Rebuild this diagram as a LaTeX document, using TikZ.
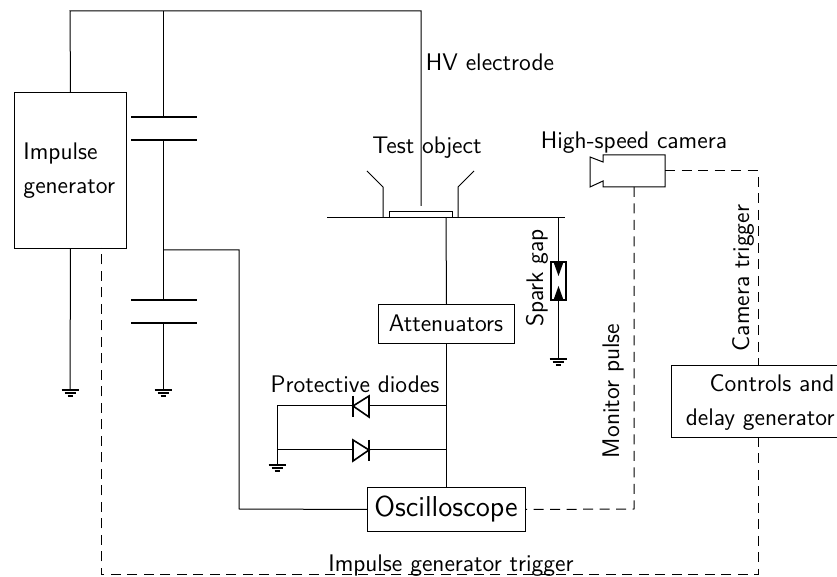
\documentclass[tikz,border=0pt]{standalone}
\usepackage{amsmath,amssymb}
\usetikzlibrary{arrows}
\tikzset{
  box/.style={draw,inner sep=0pt,anchor=north west},
  lbl/.style={font=\sffamily\large},
  trig/.style={dash pattern=on 5pt off 3.25pt},
  gnd/.pic={
    \draw[line width=0.8pt] (-8.5,0) -- (8.5,0);
    \draw[line width=0.8pt] (-5.5,3) -- (5.5,3);
    \draw[line width=0.8pt] (-2.5,6) -- (2.5,6);
  }
}
\begin{document}
\begin{tikzpicture}[x=0.5pt,y=-0.5pt,line width=0.5pt]
	\useasboundingbox (0,0) rectangle (837,577);
	\node[box,minimum width=56pt,minimum height=78pt] (gen) at (14,92) {};
	\node[lbl,align=left,anchor=west,inner sep=0pt] (gentxt) at (23,171) {Impulse\\[3pt]generator};
	\node[box,minimum width=68pt,minimum height=19.5pt] (att) at (378,304) {};
	\node[lbl] (atttxt) at (446,323) {Attenuators};
	\node[box,minimum width=79pt,minimum height=22pt] (osc) at (367,487) {};
	\node[font=\sffamily\Large] (osctxt) at (446,509) {Oscilloscope};
	\node[box,minimum width=90pt,minimum height=36pt] (ctl) at (671,365) {};
	\node[lbl,align=right,anchor=east,inner sep=0pt] (ctltxt) at (835,403) {Controls and\\[3pt]delay generator};
	\node[lbl] (hv) at (490,62) {HV electrode};
	\node[lbl] (test) at (427,148) {Test object};
	\node[lbl] (cam) at (634,143) {High-speed camera};
	\node[lbl] (prot) at (355,384) {Protective diodes};
	\node[lbl,rotate=90] (spark) at (537,278) {Spark gap};
	\node[lbl,rotate=90] (mon) at (613,391) {Monitor pulse};
	\node[lbl,rotate=90] (camtrig) at (743,278) {Camera trigger};
	\node[lbl] (imptrig) at (451,566) {Impulse generator trigger};
	% top wiring
	\coordinate (capa) at (163,117);
	\coordinate (capb) at (163,140);
	\coordinate (capc) at (163,300);
	\coordinate (capd) at (163,323);
	\coordinate (gnda) at (70,390);
	\coordinate (gndb) at (163,390);
	\coordinate (hvtip) at (421,206);
	\draw (gen.north) -- (70,11) -- (421,11) -- (hvtip);
	\draw (163,11) -- (capa);
	\draw[line width=1pt] (131,117) -- (197,117) (131,140) -- (197,140);
	\draw (capb) -- (capc);
	\draw[line width=1pt] (131,300) -- (197,300) (131,323) -- (197,323);
	\draw (capd) -- (gndb);
	\draw (gen.south) -- (gnda);
	\pic at (gnda) {gnd};
	\pic at (gndb) {gnd};
	\draw (163,250) -- (239,250) -- (239,509) -- (osc.west);
	% test object
	\draw (327,218) -- (565,218);
	\draw (389,218) rectangle (452,212);
	\draw (367,171) -- (383,187) -- (383,218);
	\draw (474,171) -- (458,187) -- (458,218);
	\draw (446,218) -- (att.north);
	\draw (att.south) -- (osc.north);
	% spark gap
	\coordinate (gapa) at (558,262);
	\coordinate (gapb) at (558,300);
	\coordinate (gndc) at (558,359);
	\draw (558,218) -- (gapa);
	\draw[line width=1.3pt] (551,262) rectangle (566,300);
	\fill (553.5,262) -- (563.5,262) -- (558.5,276) -- cycle;
	\fill (553.5,300) -- (563.5,300) -- (558.5,286) -- cycle;
	\draw (gapb) -- (gndc);
	\pic at (gndc) {gnd};
	% diodes
	\coordinate (gndd) at (277,465);
	\draw (446,406) -- (369,406);
	\draw (353,406) -- (277,406) -- (gndd);
	\draw[line width=0.8pt] (369,396) -- (369,417) -- (353,406) -- cycle;
	\draw[line width=0.8pt] (353,396) -- (353,417);
	\draw (446,450) -- (369,450);
	\draw (353,450) -- (277,450);
	\draw[line width=0.8pt] (353,440) -- (353,461) -- (369,450) -- cycle;
	\draw[line width=0.8pt] (369,440) -- (369,461);
	\pic at (gndd) {gnd};
	% camera
	\coordinate (came) at (665,171);
	\coordinate (cams) at (634,187);
	\draw (603,155) -- (665,155) -- (665,187) -- (603,187) -- (603,181) -- (590,187) -- (590,157) -- (603,162) -- cycle;
	% trigger lines
	\coordinate (ctla) at (758,365);
	\coordinate (ctlb) at (758,437);
	\coordinate (genb) at (101,248);
	\draw[trig] (came) -- (758,171) -- (ctla);
	\draw[trig] (cams) -- (634,509) -- (osc.east);
	\draw[trig] (ctlb) -- (758,575) -- (101,575) -- (genb);
\end{tikzpicture}
\end{document}
